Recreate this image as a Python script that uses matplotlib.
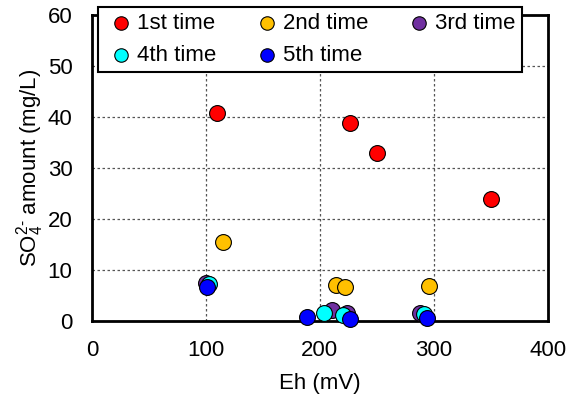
import matplotlib.pyplot as plt

plt.rcParams['font.family'] = ['Liberation Sans', 'DejaVu Sans']
plt.rcParams['mathtext.fontset'] = 'custom'
plt.rcParams['mathtext.rm'] = 'Liberation Sans'
plt.rcParams['mathtext.it'] = 'Liberation Sans'

# Eh (mV) and SO4 amount (mg/L) for each sampling time
labels = ['1st time', '2nd time', '3rd time', '4th time', '5th time']
colors = ['#ff0000', '#ffc000', '#7030a0', '#00ffff', '#0000ff']

eh_1 = [110, 226, 250, 350]
so4_1 = [40.7, 38.9, 33.0, 23.9]
eh_2 = [115, 214, 222, 296]
so4_2 = [15.4, 7.1, 6.6, 6.9]
eh_3 = [100, 211, 224, 288]
so4_3 = [7.4, 2.2, 1.5, 1.5]
eh_4 = [103, 204, 220, 291]
so4_4 = [7.3, 1.6, 1.2, 1.4]
eh_5 = [101, 189, 226, 294]
so4_5 = [6.6, 0.8, 0.3, 0.5]

eh_all = [eh_1, eh_2, eh_3, eh_4, eh_5]
so4_all = [so4_1, so4_2, so4_3, so4_4, so4_5]

fig = plt.figure(figsize=(5.78, 4.01), dpi=100)
ax = fig.add_axes([0.159, 0.1995, 0.789, 0.763])

pts = []
for i in range(5):
    p = ax.scatter(eh_all[i], so4_all[i], s=130, c=colors[i], edgecolors='black',
                   linewidths=0.8, label=labels[i], zorder=3 + i, clip_on=False)
    pts.append(p)

ax.set_xlim(0, 400)
ax.set_ylim(0, 60)
ax.set_xticks(range(0, 401, 100))
ax.set_yticks(range(0, 61, 10))
ax.tick_params(length=0, labelsize=16, pad=14)
ax.grid(True, linestyle=(0, (2, 2)), color='#555555', linewidth=0.9)
for sp in ax.spines.values():
    sp.set_linewidth(2)

ax.set_xlabel('Eh (mV)', fontsize=16, labelpad=8)
ax.set_ylabel('SO$_4^{2\\text{-}}$ amount (mg/L)', fontsize=16, labelpad=1)

# row-major legend order
order = [0, 3, 1, 4, 2]
leg = fig.legend([pts[k] for k in order], [labels[k] for k in order],
                 loc='upper left', bbox_to_anchor=(0.1696, 0.9825),
                 ncol=3, fontsize=16, frameon=True, fancybox=False, framealpha=1,
                 handletextpad=0.0, handlelength=1.5, borderpad=0.27,
                 labelspacing=0.5, columnspacing=1.5, borderaxespad=0,
                 scatterpoints=1, markerscale=0.85)
leg.get_frame().set_edgecolor('black')
leg.get_frame().set_linewidth(1.5)
leg.set_zorder(20)

plt.savefig('out.png', dpi=100)
